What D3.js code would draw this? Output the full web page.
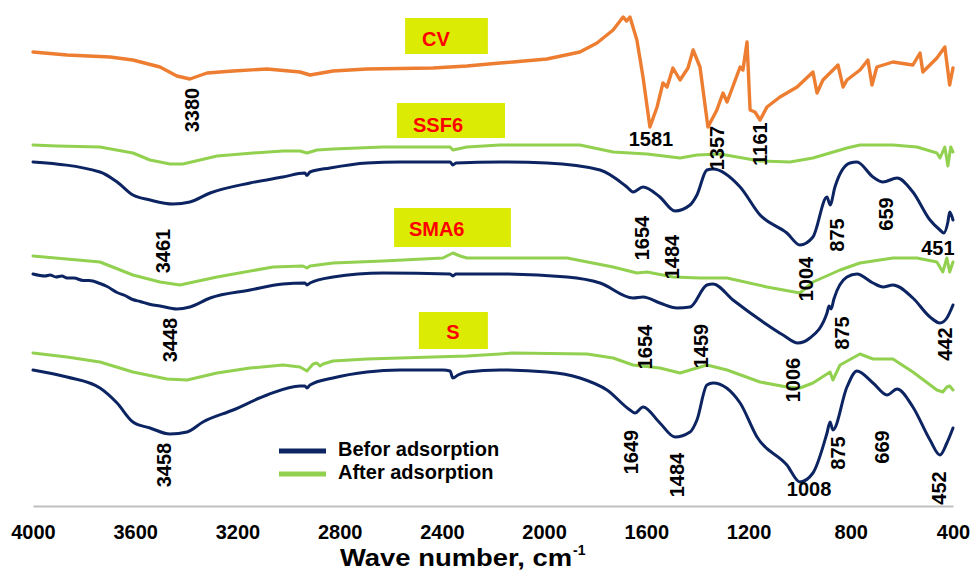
<!DOCTYPE html>
<html>
<head>
<meta charset="utf-8">
<script src="https://cdn.jsdelivr.net/npm/d3@7"></script>
<style>
  html, body { margin: 0; padding: 0; background: #ffffff; }
  svg { display: block; }
  text { font-family: "Liberation Sans", Arial, sans-serif; font-weight: bold; }
</style>
</head>
<body>
<svg id="chart" width="972" height="573"></svg>
<script>
// FTIR spectra, stacked with offsets: [wavenumber (cm-1), transmittance (a.u.)]
const xTicks = [4000, 3600, 3200, 2800, 2400, 2000, 1600, 1200, 800, 400];

const cvSpectrum = [
  [4000,91.0],[3867,90.4],[3699,90.0],[3609,89.4],[3503,88.0],[3437,86.2],[3386,85.6],
  [3319,86.8],[3217,87.2],[3084,87.6],[2955,87.0],[2916,86.4],[2826,87.2],[2693,87.6],
  [2435,87.8],[2302,88.2],[2173,88.8],[2122,89.0],[1989,89.6],[1860,91.0],[1793,92.8],
  [1730,95.4],[1691,98.0],[1677,97.2],[1664,98.0],[1637,93.4],[1613,86.0],[1586,76.0],[1558,80.0],
  [1535,84.8],[1519,84.0],[1496,87.8],[1468,85.4],[1437,87.8],[1417,91.4],[1390,88.0],
  [1359,76.0],[1324,79.4],[1300,82.8],[1284,81.0],[1233,88.0],[1222,87.4],[1206,93.0],
  [1194,79.4],[1175,79.0],[1155,77.4],[1128,80.0],[1077,82.0],[1010,84.0],[948,87.0],
  [932,82.8],[909,85.4],[850,88.4],[830,84.0],[815,85.4],[764,87.4],[733,89.4],
  [717,84.4],[698,88.0],[635,89.0],[557,88.4],[529,90.8],[518,87.0],[463,89.8],
  [432,92.0],[413,84.4],[400,87.8]
];

const ssf6Before = [
  [4000,69.0],[3738,67.0],[3671,65.0],[3609,62.4],[3542,61.4],[3452,60.6],[3386,61.0],
  [3307,62.8],[3151,64.8],[3022,66.0],[2936,66.8],[2928,66.3],[2916,67.0],[2838,67.8],
  [2693,68.8],[2564,69.0],[2368,69.0],[2357,68.4],[2345,68.8],[2173,69.0],[1989,68.8],
  [1781,67.4],[1676,64.0],[1652,63.0],[1613,64.0],[1547,62.0],[1488,59.2],[1429,60.4],
  [1402,62.4],[1363,67.4],[1339,67.6],[1233,64.0],[1155,58.4],[1050,54.8],[999,52.4],
  [948,54.0],[893,62.0],[881,60.4],[862,64.0],[803,68.8],[776,69.0],[713,66.0],
  [674,65.0],[619,65.8],[557,63.0],[490,57.4],[451,55.4],[436,54.8],[420,57.0],
  [413,59.0],[400,57.4]
];
const ssf6After = [
  [4000,72.4],[3906,72.2],[3738,72.0],[3609,70.8],[3542,69.4],[3464,68.6],[3413,68.6],
  [3280,70.2],[3139,70.8],[3022,71.2],[2955,71.2],[2928,70.8],[2889,71.4],[2826,71.6],
  [2630,72.0],[2368,72.0],[2357,71.4],[2302,72.0],[2173,72.4],[1860,72.4],[1730,71.0],
  [1597,70.6],[1468,69.8],[1402,70.4],[1312,70.6],[1155,69.2],[1038,69.0],[948,69.8],
  [815,71.8],[764,72.4],[635,72.4],[541,72.0],[463,70.8],[451,69.8],[432,72.0],
  [420,68.2],[409,72.0],[400,71.0]
];

const sma6Before = [
  [4000,46.6],[3953,46.2],[3933,46.4],[3910,46.0],[3887,46.2],[3867,45.8],[3840,45.8],
  [3804,45.3],[3780,45.3],[3738,44.7],[3710,44.1],[3671,42.9],[3640,42.3],[3610,41.5],
  [3581,41.1],[3540,40.5],[3503,40.2],[3437,39.6],[3386,40.0],[3307,41.8],[3151,43.4],
  [3022,44.6],[2936,44.8],[2928,44.4],[2916,44.8],[2826,46.0],[2630,46.8],[2368,46.6],
  [2357,46.2],[2345,46.6],[2173,46.6],[1910,46.0],[1781,44.8],[1652,41.8],[1613,42.0],
  [1547,40.8],[1480,39.8],[1429,40.0],[1363,44.4],[1339,44.6],[1261,41.4],[1143,37.0],
  [1065,34.4],[1007,32.8],[960,33.8],[893,38.8],[885,40.2],[877,39.6],[866,41.6],
  [815,46.0],[776,46.6],[713,44.8],[674,44.0],[635,44.4],[557,41.8],[490,38.0],
  [451,36.8],[424,37.8],[400,40.4]
];
const sma6After = [
  [4000,50.2],[3738,49.0],[3609,46.4],[3503,45.0],[3425,44.4],[3280,46.0],[3061,48.0],
  [2944,48.2],[2928,47.8],[2916,48.2],[2826,48.8],[2630,49.2],[2396,49.8],[2357,50.8],
  [2329,50.2],[2302,49.8],[2173,49.8],[1910,49.8],[1730,48.0],[1637,46.8],[1597,47.0],
  [1496,46.0],[1390,45.8],[1284,45.8],[1128,44.0],[999,42.8],[948,45.0],[842,47.4],
  [764,48.8],[635,49.8],[541,49.8],[463,49.0],[440,47.0],[424,49.8],[413,47.0],[400,49.0]
];

const sBefore = [
  [4000,27.4],[3867,26.0],[3738,23.8],[3671,20.8],[3609,17.0],[3542,15.8],[3464,14.6],
  [3397,15.0],[3335,17.0],[3217,19.4],[3084,22.4],[2955,24.2],[2936,24.2],[2928,23.8],
  [2916,24.4],[2826,25.8],[2693,27.0],[2564,27.4],[2396,27.4],[2368,27.2],[2357,25.8],
  [2337,26.4],[2302,27.0],[2173,27.4],[1989,27.0],[1860,25.8],[1754,23.4],[1664,19.4],
  [1644,18.8],[1613,20.0],[1547,16.8],[1488,14.0],[1429,15.0],[1402,17.4],[1363,24.4],
  [1339,24.8],[1233,20.8],[1167,14.0],[1050,8.4],[999,5.0],[948,6.8],[893,14.8],
  [881,17.0],[870,15.4],[815,24.0],[776,27.2],[713,24.8],[658,22.4],[619,23.6],
  [557,20.0],[490,13.4],[451,10.4],[424,12.8],[400,15.8]
];
const sAfter = [
  [4000,30.8],[3867,30.0],[3738,29.0],[3609,27.0],[3476,25.6],[3397,25.4],[3280,26.8],
  [3151,27.8],[3022,28.4],[2955,28.0],[2928,27.2],[2904,28.6],[2889,28.8],[2877,28.2],
  [2865,28.6],[2826,29.2],[2693,29.6],[2435,30.0],[2302,30.2],[2173,30.6],[2122,30.8],
  [1832,30.6],[1730,29.8],[1652,28.4],[1547,27.8],[1468,26.8],[1402,27.8],[1363,28.4],
  [1284,27.4],[1155,25.0],[1050,24.0],[999,23.8],[948,24.8],[881,27.0],[870,25.4],
  [842,28.4],[764,30.6],[713,29.6],[635,29.6],[557,27.0],[463,23.4],[440,23.0],
  [424,24.0],[413,24.2],[400,23.4]
];

// Sample name tags and peak annotations (wavenumber text, anchor in data units)
const sampleNames = ["CV", "SSF6", "SMA6", "S"];
const peakTexts   = ["3380","1581","1357","1161","3461","1654","1484","1004","875","659","451",
                     "3448","1654","1459","1006","875","442",
                     "3458","1649","1484","1008","875","669","452"];
const peakAnchorWn = [3378,1582,1324,1155,3491,1617,1500,975,854,662,459,
                      3464,1605,1386,1026,834,431,
                      3487,1660,1480,963,850,678,455];
const peakAnchorT  = [79.4,73.6,71.8,72.6,51.2,53.8,50.0,45.6,54.4,58.6,51.8,
                      33.4,32.0,32.2,25.4,34.8,32.6,
                      8.4,11.0,6.4,3.6,10.8,12.0,3.8];
const peakUpright  = ["1581","451","1008"];

const legendLabels = ["Befor adsorption", "After adsorption"];

// ---- layout ----
const W = 972, H = 573;
const svg = d3.select("#chart");
svg.append("rect").attr("width", W).attr("height", H).attr("fill", "#ffffff");

const x = d3.scaleLinear().domain([4000, 400]).range([33, 953]);
const y = d3.scaleLinear().domain([0, 100]).range([507, 7]);

const NAVY = "#0c2461", GREEN = "#92d050", ORANGE = "#ed7d31";
const TAG_FILL = "#dbeb04", TAG_TEXT = "#ff0000";

// x axis
const axis = d3.axisBottom(x).tickValues(xTicks).tickSize(0).tickSizeOuter(0).tickPadding(19)
  .tickFormat(d3.format("d"));
const gx = svg.append("g").attr("transform", `translate(0,${y(0) - 1})`).call(axis);
gx.select(".domain").attr("stroke", "#bfbfbf").attr("stroke-width", 2);
gx.selectAll(".tick text").attr("font-size", 20).attr("fill", "#000")
  .attr("font-family", "'Liberation Sans', Arial, sans-serif").attr("font-weight", "bold");

// axis title
const title = svg.append("g");
title.append("text").attr("x", 340).attr("y", 566).attr("font-size", 24).attr("fill", "#000")
  .attr("textLength", 232).attr("lengthAdjust", "spacingAndGlyphs").text("Wave number, cm");
title.append("text").attr("x", 573).attr("y", 555).attr("font-size", 14).attr("fill", "#000")
  .text("-1");

// spectra
const lineLinear = d3.line().x(d => x(d[0])).y(d => y(d[1]));
const lineSmooth = d3.line().x(d => x(d[0])).y(d => y(d[1])).curve(d3.curveMonotoneX);

const traces = [
  { data: ssf6After, color: GREEN, gen: lineLinear, w: 3 },
  { data: ssf6Before, color: NAVY, gen: lineSmooth, w: 3 },
  { data: sma6After, color: GREEN, gen: lineLinear, w: 3 },
  { data: sma6Before, color: NAVY, gen: lineSmooth, w: 3 },
  { data: sAfter, color: GREEN, gen: lineLinear, w: 3 },
  { data: sBefore, color: NAVY, gen: lineSmooth, w: 3 },
  { data: cvSpectrum, color: ORANGE, gen: lineLinear, w: 3.4 }
];
svg.append("g").selectAll("path").data(traces).join("path")
  .attr("d", t => t.gen(t.data))
  .attr("fill", "none")
  .attr("stroke", t => t.color)
  .attr("stroke-width", t => t.w)
  .attr("stroke-linejoin", "round")
  .attr("stroke-linecap", "round");

// sample name tags
const tagBoxes = [
  { wn: [2544, 2220], t: [97.8, 90.6], textWn: 2478, textT: 92.2, anchor: "start" },
  { wn: [2576, 2153], t: [80.8, 73.8], textWn: 2513, textT: 75.0, anchor: "start" },
  { wn: [2587, 2130], t: [59.8, 52.0], textWn: 2529, textT: 54.2, anchor: "start" },
  { wn: [2490, 2220], t: [39.0, 31.6], textWn: 2357, textT: 33.6, anchor: "middle" }
];
const tags = svg.append("g").selectAll("g").data(tagBoxes).join("g");
tags.append("rect")
  .attr("x", d => x(d.wn[0])).attr("width", d => x(d.wn[1]) - x(d.wn[0]))
  .attr("y", d => y(d.t[0])).attr("height", d => y(d.t[1]) - y(d.t[0]))
  .attr("fill", TAG_FILL);
tags.append("text")
  .attr("x", d => x(d.textWn)).attr("y", d => y(d.textT))
  .attr("text-anchor", d => d.anchor)
  .attr("font-size", 20).attr("fill", TAG_TEXT)
  .text((d, i) => sampleNames[i]);

// peak annotations
const peaks = peakTexts.map((t, i) => ({ t, wn: peakAnchorWn[i], v: peakAnchorT[i] }));
const uprightIdx = new Set([1, 10, 20]);
svg.append("g").selectAll("text").data(peaks).join("text")
  .attr("font-size", 20).attr("fill", "#000")
  .attr("text-anchor", "middle").attr("dominant-baseline", "central")
  .attr("transform", (d, i) => uprightIdx.has(i) && peakUpright.includes(d.t)
      ? `translate(${x(d.wn)},${y(d.v)})`
      : `translate(${x(d.wn)},${y(d.v)}) rotate(-90)`)
  .text(d => d.t);

// legend
const legend = svg.append("g").attr("transform", "translate(279,451)");
[NAVY, GREEN].forEach((c, i) => {
  legend.append("line").attr("x1", 0).attr("x2", 47).attr("y1", i * 23).attr("y2", i * 23)
    .attr("stroke", c).attr("stroke-width", 5);
  legend.append("text").attr("x", 59).attr("y", i * 23 + 5)
    .attr("font-size", 20).attr("fill", "#000")
    .text(legendLabels[i]);
});
</script>
</body>
</html>
